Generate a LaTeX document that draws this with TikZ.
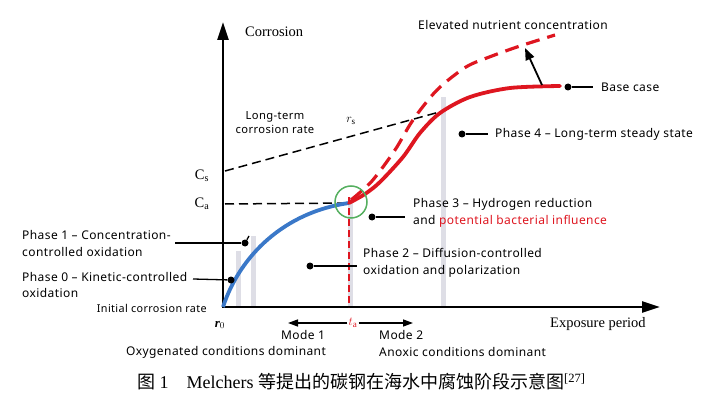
\documentclass[tikz,border=0pt]{standalone}
\usepackage{fontspec}
\setmainfont{Liberation Serif}
\setsansfont{Noto Sans}
\newfontfamily\lblfont[LetterSpace=3.5]{Noto Sans}
\newfontfamily\cjkfont{Noto Sans CJK SC}
\usetikzlibrary{arrows.meta}
\definecolor{curveblue}{RGB}{58,120,200}
\definecolor{curvered}{RGB}{222,22,32}
\definecolor{circgreen}{RGB}{85,175,95}
\definecolor{bargrey}{RGB}{222,222,230}
\tikzset{
  axis/.style={line width=2.6pt,-{Triangle[length=18pt,width=11pt]}},
  lbl/.style={font=\lblfont\fontsize{12}{16.5}\selectfont,align=left,anchor=west,inner sep=0pt},
  dotmark/.style={circle,fill=black,inner sep=0pt,minimum size=7pt},
  leader/.style={line width=1.3pt},
  bar/.style={bargrey,line width=5pt},
  refline/.style={line width=1.5pt,dash pattern=on 9pt off 5pt},
  modearrow/.style={line width=1.3pt,-{Triangle[length=10pt,width=7pt]}},
  serifl/.style={font=\fontsize{14.5}{16}\selectfont,inner sep=0pt}
}
\begin{document}
\begin{tikzpicture}[x=1pt,y=-1pt]
\useasboundingbox (0,0) rectangle (724,396);
% grey phase bars
\draw[bar] (238,307) -- (238,251);
\draw[bar] (253,307) -- (253,236);
\draw[bar] (350,307) -- (350,197);
\draw[bar] (443,307) -- (443,97);
% axes
\coordinate (O) at (223,307);
\coordinate (ytop) at (223,22);
\coordinate (xend) at (660,307);
\draw[axis] (O) -- (ytop);
\draw[axis] (221.7,307) -- (xend);
\node[serifl,anchor=west] (ylab) at (245,32) {Corrosion};
\node[serifl,anchor=west] (xlab) at (550,324) {Exposure period};
% reference levels
\node[serifl] (Cs) at (202,176) {C\textsubscript{s}};
\node[serifl] (Ca) at (202,204) {C\textsubscript{a}};
\coordinate (csstart) at (225,171);
\coordinate (csend) at (443,111);
\coordinate (castart) at (225,204);
\coordinate (A) at (349,203);
\draw[refline] (csstart) -- (csend);
\draw[refline] (castart) -- (A);
\node[font=\lblfont\fontsize{11.2}{14}\selectfont,align=center] (ltrate) at (275,123) {Long-term\\corrosion rate};
\node[font=\fontsize{13}{14}\selectfont] (rs) at (351,121) {$r_{\mathrm{s}}$};
% curves
\draw[curveblue,line width=3.8pt] (O) .. controls (240,255) and (285,212) .. (A);
\draw[curvered,line width=3.8pt,line cap=round] plot[smooth] coordinates {(349,203) (365,194) (380,182) (403,157) (420,133) (440,113) (470,97) (510,88) (560,86)};
\draw[curvered,line width=3.2pt,dash pattern=on 14pt off 8pt] plot[smooth] coordinates {(351,200) (372,181) (395,150) (413,120) (437,90) (466,67) (492,56) (520,46) (555,35)};
\draw[curvered,line width=1.3pt,dash pattern=on 7pt off 4pt] (349,197) -- (349,307);
\draw[circgreen,line width=1.5pt] (351,202) circle (16);
% labels with leaders
\node[lbl] (p1lab) at (22,243.5) {Phase 1 \textendash{} Concentration-\\controlled oxidation};
\node[dotmark] (p1dot) at (245,243) {};
\coordinate (p1end) at (175,243);
\draw[leader] (p1end) -- (p1dot);
\draw[leader] (p1dot) -- (249,236);
\node[lbl] (p0lab) at (22,285) {Phase 0 \textendash{} Kinetic-controlled\\oxidation};
\node[dotmark] (p0dot) at (231,280) {};
\coordinate (p0end) at (193,279);
\draw[leader] (p0end) -- (p0dot);
\node[lbl] (p2lab) at (363,263) {Phase 2 \textendash{} Diffusion-controlled\\oxidation and polarization};
\node[dotmark] (p2dot) at (310,266) {};
\coordinate (p2end) at (357,266);
\draw[leader] (p2dot) -- (p2end);
\node[lbl] (p3lab) at (413,213) {Phase 3 \textendash{} Hydrogen reduction\\and \textcolor{curvered}{potential bacterial influence}};
\node[dotmark] (p3dot) at (372,217) {};
\coordinate (p3end) at (405,217);
\draw[leader] (p3dot) -- (p3end);
\node[lbl] (p4lab) at (495,134) {Phase 4 \textendash{} Long-term steady state};
\node[dotmark] (p4dot) at (462,134) {};
\coordinate (p4end) at (488,134);
\draw[leader] (p4dot) -- (p4end);
\node[lbl] (baselab) at (601,87) {Base case};
\node[dotmark] (basedot) at (568,87) {};
\coordinate (baseend) at (593,87);
\draw[leader] (basedot) -- (baseend);
\node[lbl,anchor=center] (elev) at (513,25) {Elevated nutrient concentration};
\coordinate (elevfrom) at (542,85);
\coordinate (elevto) at (525,48);
\draw[line width=1.8pt,-{Triangle[length=12pt,width=9pt]}] (elevfrom) -- (elevto);
% bottom
\node[font=\lblfont\fontsize{10.8}{12}\selectfont,anchor=east,inner sep=0pt] (init) at (207,308) {Initial corrosion rate};
\node[font=\fontsize{13}{14}\selectfont] (r0) at (220,325) {{\bfseries\itshape r}$_0$};
\node[font=\fontsize{13}{14}\selectfont,text=curvered,inner sep=1pt] (ta) at (353,323) {$t_{\mathrm{a}}$};
\coordinate (m1tip) at (288,323);
\coordinate (m2tip) at (413,323);
\draw[modearrow] (ta.west) -- (m1tip);
\draw[modearrow] (ta.east) -- (m2tip);
\node[lbl,anchor=center] (m1lab) at (303,335) {Mode 1};
\node[lbl,anchor=center] (oxy) at (226,352) {Oxygenated conditions dominant};
\node[lbl] (m2lab) at (379,335) {Mode 2};
\node[lbl] (anox) at (379,352) {Anoxic conditions dominant};
\node[font=\fontsize{18}{20}\selectfont,anchor=west,inner sep=0pt] (caption) at (137,382) {{\cjkfont 图}~1\hspace{1em}Melchers~{\cjkfont 等提出的碳钢在海水中腐蚀阶段示意图}\textsuperscript{[27]}};
\end{tikzpicture}
\end{document}
